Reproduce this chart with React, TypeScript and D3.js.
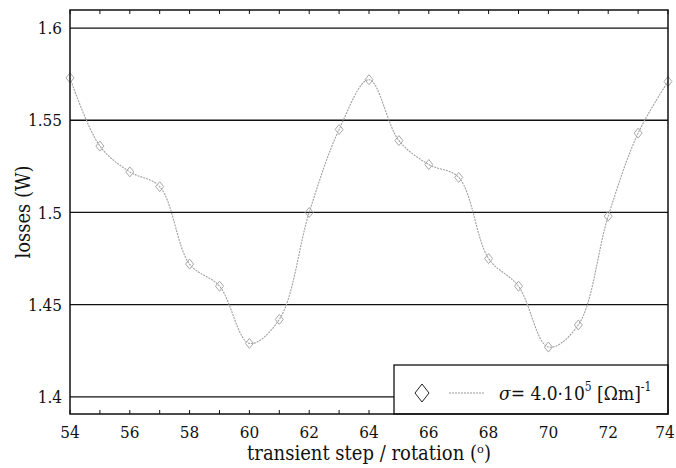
import React, { useMemo } from "react";
import * as d3 from "d3";

// transient step (deg) and losses (W)
const steps = [54, 55, 56, 57, 58, 59, 60, 61, 62, 63, 64, 65, 66, 67, 68, 69, 70, 71, 72, 73, 74];
const losses = [
  1.573, 1.536, 1.522, 1.514, 1.472, 1.46, 1.429, 1.442, 1.5, 1.545, 1.572,
  1.539, 1.526, 1.519, 1.475, 1.46, 1.427, 1.439, 1.498, 1.543, 1.571,
];
const xTickLabels = [54, 56, 58, 60, 62, 64, 66, 68, 70, 72, 74];
const yTickLabels = [1.4, 1.45, 1.5, 1.55, 1.6];

const width = 676;
const height = 468;
const margin = { top: 10, right: 8, bottom: 54, left: 70 };
const serif = { fontFamily: '"DejaVu Serif Condensed", "DejaVu Serif", serif', fontStretch: "condensed" };

const App = () => {
  const x = useMemo(
    () => d3.scaleLinear().domain([54, 74]).range([margin.left, width - margin.right]),
    []
  );
  const y = useMemo(
    () => d3.scaleLinear().domain([1.3907, 1.6098]).range([height - margin.bottom, margin.top]),
    []
  );

  const pts: [number, number][] = steps.map((s, i) => [s, losses[i]]);
  const line = d3
    .line<[number, number]>()
    .x((d) => x(d[0]))
    .y((d) => y(d[1]))
    .curve(d3.curveCatmullRom.alpha(0.5));

  const minorTicks = d3.range(54, 75, 1);
  const x0 = margin.left;
  const x1 = width - margin.right;
  const y0 = margin.top;
  const y1 = height - margin.bottom;

  const diamond = (cx: number, cy: number, w: number, h: number) =>
    `M${cx},${cy - h / 2}L${cx + w / 2},${cy}L${cx},${cy + h / 2}L${cx - w / 2},${cy}Z`;

  // legend box
  const lg = { x: 394, y: 365, w: x1 - 394, h: y1 - 365 };

  return (
    <div style={{ position: "fixed", left: 0, top: 0 }}>
      <svg width={width} height={height} style={{ display: "block", background: "#fff" }}>
        {/* grid lines */}
        {yTickLabels.map((t) => (
          <line key={t} x1={x0} x2={x1} y1={y(t)} y2={y(t)} stroke="#111" strokeWidth={1.3} />
        ))}

        {/* ticks, inward, top and bottom */}
        {minorTicks.map((t) => (
          <g key={t}>
            <line x1={x(t)} x2={x(t)} y1={y0} y2={y0 + 4} stroke="#111" />
            <line x1={x(t)} x2={x(t)} y1={y1} y2={y1 - 4} stroke="#111" />
          </g>
        ))}

        {/* data curve */}
        <path
          d={line(pts) ?? ""}
          fill="none"
          stroke="#a0a0a0"
          strokeWidth={1.1}
          strokeDasharray="2 1"
        />
        {pts.map((d, i) => (
          <path
            key={i}
            d={diamond(x(d[0]), y(d[1]), 8, 10)}
            fill="none"
            stroke="#a8a8a8"
            strokeWidth={1}
          />
        ))}

        {/* legend */}
        <rect x={lg.x} y={lg.y} width={lg.w} height={lg.h} fill="#fff" stroke="#111" strokeWidth={1.3} />
        <path d={diamond(422, 393, 14, 18)} fill="none" stroke="#222" strokeWidth={1} />
        <line x1={449} x2={485} y1={393} y2={393} stroke="#9a9a9a" strokeWidth={1.2} strokeDasharray="2 1" />
        <text x={499} y={400} style={serif} fontSize={19} fill="#111">
          <tspan fontStyle="italic">σ</tspan>
          <tspan>= 4.0·10</tspan>
          <tspan fontSize={12} dy={-9}>5</tspan>
          <tspan dy={9}> [Ωm]</tspan>
          <tspan fontSize={12} dy={-9}>-1</tspan>
        </text>

        {/* frame */}
        <rect x={x0} y={y0} width={x1 - x0} height={y1 - y0} fill="none" stroke="#111" strokeWidth={1.5} />

        {/* y tick labels */}
        {yTickLabels.map((t) => (
          <text
            key={t}
            x={x0 - 8}
            y={y(t)}
            dy="0.36em"
            textAnchor="end"
            style={serif}
            fontSize={17}
            fill="#111"
          >
            {d3.format("~g")(t)}
          </text>
        ))}

        {/* x tick labels */}
        {xTickLabels.map((t) => (
          <text
            key={t}
            x={Math.min(x(t), width - 11)}
            y={y1 + 24}
            textAnchor="middle"
            style={serif}
            fontSize={17}
            fill="#111"
          >
            {t}
          </text>
        ))}

        {/* axis titles */}
        <text
          x={(x0 + x1) / 2}
          y={height - 8}
          textAnchor="middle"
          style={serif}
          fontSize={20}
          fill="#111"
        >
          transient step / rotation (ᵒ)
        </text>
        <text
          transform={`translate(30, ${(y0 + y1) / 2}) rotate(-90)`}
          textAnchor="middle"
          style={serif}
          fontSize={20}
          fill="#111"
        >
          losses (W)
        </text>
      </svg>
    </div>
  );
};

export default App;
